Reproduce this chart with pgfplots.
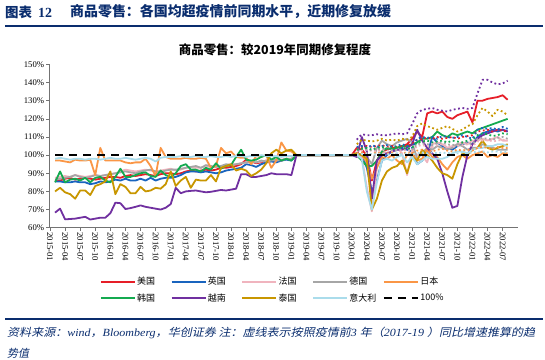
\documentclass[border=0pt]{standalone}
\usepackage{pgfplots}
\pgfplotsset{compat=1.18}
\usepackage{pgfplotstable}
\usepackage{fontspec}
\setmainfont{Liberation Serif}
\newfontfamily\cjk{Noto Sans CJK SC}
\newfontfamily\cjkit{Noto Sans CJK SC}[FakeSlant=0.2]
\definecolor{cUS}{RGB}{230,30,40}
\definecolor{cUK}{RGB}{25,100,190}
\definecolor{cFR}{RGB}{240,180,190}
\definecolor{cDE}{RGB}{166,166,166}
\definecolor{cJP}{RGB}{250,150,70}
\definecolor{cKR}{RGB}{20,170,80}
\definecolor{cVN}{RGB}{112,48,160}
\definecolor{cTH}{RGB}{200,150,0}
\definecolor{cIT}{RGB}{170,220,235}
\definecolor{navy}{RGB}{10,45,110}

\pgfplotstableread{
m us uk fr de jp kr vn th it
0 86.5 85.5 87.5 86.5 97 85 68.3 80 98
1 86 85.5 88 87 97 91 70.5 82 98.5
2 87 85 88.5 87.5 96.5 85 64.6 79.5 98
3 87.5 85 88 88 96 86.5 64.8 78.5 97.5
4 86.5 85.5 89 89 97.5 87 65 76 98
5 87 85 88.5 88 97 86 65.5 80.5 98
6 87.5 85 88 87.5 97 87.5 66 80.5 97.5
7 87 84 88.5 88 97.5 85 64.5 78 98
8 86.5 84.5 89 89 89 87.5 65 83 98
9 87 85.5 88.5 88.5 104 88 65.5 84 97.5
10 87.5 85 89 89 97 86 65.5 85.5 98
11 88 85.5 89.5 89.5 97 85 68 91 98.5
12 88 86.5 90 90 97 88 73.8 78.5 98
13 87.5 86 91 90.5 97 92.5 73.5 84 98
14 88.5 87 92 91 96 88 70.3 82.5 98.5
15 89 86 91.5 90.5 95.5 88 70.8 79 98
16 88.5 86 91 90 96 89 71.5 79 97.5
17 89 87 91.5 91 96 90 72.3 82.5 98
18 89.5 86 92 91.5 98 90.5 71.5 80 98.5
19 89 87.5 91.5 92 94 88.5 71 80.5 98
20 88.5 86 91 91 88.5 88 70.5 82 96.5
21 89.5 87 91.5 90.5 104 91.5 70 81.5 98.5
22 90 87.5 92 91.5 99 89 71 84 99
23 90 87.5 92.5 92 98 88 73 91 99
24 89.5 88 91.5 92 98 90 82 83 99
25 90 89 92 92.5 98 94 79 86 99.5
26 91 90.5 93 93 98.5 95 80 88 99
27 91.5 91 93.5 93.5 98 92 80.3 82 99
28 91 91 93 94 98 92 80.5 86.5 99.5
29 91.5 90.5 93 93 98.5 91 80 86 99
30 92 91 94 94.5 98 93 79.5 86 99
31 91.5 90.5 93.5 94 93 92 79.8 89 99.5
32 92 90 93.5 93.5 94 95.5 80.3 85.5 99
33 93 90.5 94 94 104 92.5 80.8 93 99
34 93 91.5 94.5 95 101 94 80.5 94 99.5
35 93.5 92 95 94.5 102 94.5 81 95 99
36 94 92.5 95 95 99 99 81.5 91.5 99.5
37 95 93 95.5 95.5 98.5 103 89.5 92.5 99.5
38 97.5 95 96 96 98.5 97.5 89.5 91.5 99
39 96.5 94.5 96.5 96.5 95 97 88 88.5 99.5
40 95.5 93.5 96 96 99.5 97.5 88 90 99.5
41 96 95 96.5 97 99 99 88.5 92 100
42 97 96 97 96.5 100 100 89 95.5 99.5
43 97.5 96.5 97.5 97 93 97.5 90 101 99.5
44 96.5 96 97 97.5 97 99 89.5 103 99.5
45 97 97 97.5 97 107 97 89.5 101 99
46 98 97.5 98 98 102.5 98 89.5 102.5 99.5
47 97.5 97 98 98 102 97 89 103 99.5
48 100 100 100 100 100 100 100 100 100
49 100 100 100 100 100 100 100 100 100
50 100 100 100 100 100 100 100 100 100
51 100 100 100 100 100 100 100 100 100
52 100 100 100 100 100 100 100 100 100
53 100 100 100 100 100 100 100 100 100
54 100 100 100 100 100 100 100 100 100
55 100 100 100 100 100 100 100 100 100
56 100 100 100 100 100 100 100 100 100
57 100 100 100 100 100 100 100 100 100
58 100 100 100 100 100 100 100 100 100
59 100 100 100 100 100 100 100 100 100
60 104 101 101 101 101 100 99 101 100
61 103 100 99 100 100 97 110 100 98
62 100 93 82 99 96 94 102 98 80
63 86 80 69 95 87 94 76 70 70
64 97 86 93 104 93 97 97 76 85
65 102 97 102 108 99 102 100 86 97
66 103 100 101 106 98 104 101 91 98
67 104 102 102 105 100 103 102 93 97
68 104 103 104 107 97 104 103 94 99
69 105 104 101 108 95 105 103 97 100
70 106 103 89 109 100 105 104 90 96
71 109 102 103 107 101 106 106 99 99
72 113 95 100 98 97 107 114 97 95
73 110 97 100 101 98 109 108 103 97
74 123 100 96 104 103 109 104 100 99
75 124 110 106 103 99 110 101 97 98
76 123 107 107 105 99 113 98 93 98
77 124 105 106 104 95 111 90 90 98
78 121 104 104 103 92 110 80 89 99
79 120 103 105 104 96 112 71 87 101
80 122 105 106 106 99 111 72 95 102
81 123 106 107 105 100 112 88 101 102
82 124 107 106 103 98 113 100 100 101
83 118 106 108 104 100 112 106 103 103
84 130 110 108 104 101 114 109 104 104
85 130 112 109 106 102 115 111 108 104
86 131 113 108 105 99 116 112 104 105
87 131.5 114 109 104 100 117 113 103 105
88 132 113 110 103 99 118 114 104 106
89 133 114 108 103 101 119 114 105 106
90 130.5 113 108 103 101 120 113 106 105
}\actual

\pgfplotstableread{
m tus tuk tfr tde tjp tkr tvn tth tit
60 104 104.5 102 103 101 103 108.5 106 100.5
61 104.5 105 102.5 103.5 101.5 103.5 111.5 108.5 100.5
62 105 104 103 103 101 104 111 108 101
63 104.5 105.5 102.5 102.5 100.5 103 111 107.5 100.5
64 105 104.5 102 103.5 101.5 104 111.5 108 100.5
65 105.5 105 103 103 101 104.5 111 109 101
66 104.5 105.5 102.5 104 101 103.5 111 108 100.5
67 105 104.5 102 103 101.5 104 111.5 108.5 100.5
68 104.5 105 103 102.5 100.5 104.5 112 108 101
69 105 106 102.5 103.5 101 104 111.5 109 100.5
70 105.5 105 103 104 101.5 103.5 112 108.5 101
71 106 104 102 103 101 104 117 110 100.5
72 108.5 109 105 106 102.5 107 123 116 101
73 109 110 105.5 106.5 103 107.5 125 117.5 101.5
74 109.5 109.5 105 106 102.5 108 125.5 116 101
75 109 110 104.5 105.5 102 107 126 115 101.5
76 110 109 105.5 106.5 103 107.5 125 114 101
77 109 110.5 106 107 103.5 108 124.5 115 101.5
78 109.5 110 105 106 102.5 107 124 116 101
79 110 109.5 104.5 105.5 102 108 125 114.5 101.5
80 109 110 105 106 103 107.5 125.5 113 101
81 110 111 105.5 106.5 102.5 107 126 114 101.5
82 110.5 110 106 107 103 108 125.5 116 101
83 111 109 105 106 102.5 108.5 126 117 101.5
84 113 114 107.5 109 104 111 134 122 102
85 113.5 115 108 109.5 104.5 112 141.5 126 102
86 114 114.5 108.5 109 104 111.5 141.5 124 101.5
87 113 115 107.5 108.5 103.5 110.5 140 121.5 102
88 114 114 108 109.5 104.5 111 139 125 102
89 113.5 115.5 108.5 110 104 112 139.5 124 101.5
90 113 114.5 108 109 104 111.5 141 122 102
}\trend

\begin{document}
\begin{tikzpicture}[x=1bp,y=1bp]
\path[use as bounding box] (0,0) rectangle (545,359);
% header
\node[anchor=west, text=navy, inner sep=0pt] at (5,347) {{\cjk\bfseries\fontsize{13.5}{15}\selectfont 图表}\hspace{6bp}{\fontsize{14}{15}\selectfont\bfseries 12}};
\node[anchor=west, text=navy, inner sep=0pt] at (70,347) {\cjk\bfseries\fontsize{14}{15}\selectfont 商品零售：各国均超疫情前同期水平，近期修复放缓};
\draw[navy, line width=2] (5,333) -- (543,333);
\node[inner sep=0pt] at (275,309) {\cjk\bfseries\fontsize{12.5}{14}\selectfont 商品零售：较2019年同期修复程度};
% footer
\draw[navy, line width=2] (5,39.8) -- (543,39.8);
\node[anchor=west, inner sep=0pt, text=navy] at (7,26) {\resizebox{528bp}{\height}{\fontsize{11}{12}\selectfont{\cjkit 资料来源：}{\itshape wind}{\cjkit ，}{\itshape Bloomberg}{\cjkit ，华创证券 注：虚线表示按照疫情前}{\itshape 3 }{\cjkit 年（}{\itshape 2017-19 }{\cjkit ）同比增速推算的趋}}};
\node[anchor=west, inner sep=0pt, text=navy] at (7,6) {\fontsize{11}{12}\selectfont\cjkit 势值};

\begin{axis}[
  at={(49.3bp,131.3bp)}, anchor=south west, scale only axis,
  width=468.4bp, height=163.3bp,
  xmin=-1.14, xmax=92, ymin=60, ymax=150,
  axis lines*=left,
  axis line style={black!55, line width=0.8pt},
  tick style={black!55, line width=0.6pt},
  tick align=outside, major tick length=3bp,
  xtick={-1,2,...,89},
  xticklabels={2015-01,2015-04,2015-07,2015-10,2016-01,2016-04,2016-07,2016-10,2017-01,2017-04,2017-07,2017-10,2018-01,2018-04,2018-07,2018-10,2019-01,2019-04,2019-07,2019-10,2020-01,2020-04,2020-07,2020-10,2021-01,2021-04,2021-07,2021-10,2022-01,2022-04,2022-07},
  ytick={60,70,...,150},
  /pgf/number format/assume math mode=true,
  yticklabel={\pgfmathprintnumber{\tick}\%},
  xticklabel style={rotate=-90, anchor=west, font=\fontsize{8.7}{9}\selectfont, inner sep=1.5bp},
  yticklabel style={font=\fontsize{8.7}{9}\selectfont, inner sep=2bp},
  legend columns=5,
  legend cell align=left,
  legend image code/.code={\draw[#1] (0bp,0bp) -- (34bp,0bp);},
  legend style={at={(axis description cs:0.4765,-0.3815)}, anchor=center, draw=none, fill=none,
     font=\cjk\fontsize{9}{10}\selectfont, inner sep=0pt,
     nodes={inner sep=1.5bp},
     /tikz/every even column/.append style={column sep=14bp},
     row sep=4bp},
  every axis plot/.append style={line join=round},
]
\addplot[cUS, line width=1.8bp] table[x=m,y=us] {\actual}; \addlegendentry{美国}
\addplot[cUK, line width=1.8bp] table[x=m,y=uk] {\actual}; \addlegendentry{英国}
\addplot[cFR, line width=1.8bp] table[x=m,y=fr] {\actual}; \addlegendentry{法国}
\addplot[cDE, line width=1.8bp] table[x=m,y=de] {\actual}; \addlegendentry{德国}
\addplot[cJP, line width=1.8bp] table[x=m,y=jp] {\actual}; \addlegendentry{日本}
\addplot[cKR, line width=1.8bp] table[x=m,y=kr] {\actual}; \addlegendentry{韩国}
\addplot[cVN, line width=1.8bp] table[x=m,y=vn] {\actual}; \addlegendentry{越南}
\addplot[cTH, line width=1.8bp] table[x=m,y=th] {\actual}; \addlegendentry{泰国}
\addplot[cIT, line width=1.8bp] table[x=m,y=it] {\actual}; \addlegendentry{\makebox[18bp][l]{意大利}}
\addplot[cUS, line width=1.8bp, dash pattern=on 1.8bp off 2.6bp, forget plot] table[x=m,y=tus] {\trend};
\addplot[cUK, line width=1.8bp, dash pattern=on 1.8bp off 2.6bp, forget plot] table[x=m,y=tuk] {\trend};
\addplot[cFR, line width=1.8bp, dash pattern=on 1.8bp off 2.6bp, forget plot] table[x=m,y=tfr] {\trend};
\addplot[cDE, line width=1.8bp, dash pattern=on 1.8bp off 2.6bp, forget plot] table[x=m,y=tde] {\trend};
\addplot[cJP, line width=1.8bp, dash pattern=on 1.8bp off 2.6bp, forget plot] table[x=m,y=tjp] {\trend};
\addplot[cKR, line width=1.8bp, dash pattern=on 1.8bp off 2.6bp, forget plot] table[x=m,y=tkr] {\trend};
\addplot[cVN, line width=1.8bp, dash pattern=on 1.8bp off 2.6bp, forget plot] table[x=m,y=tvn] {\trend};
\addplot[cTH, line width=1.8bp, dash pattern=on 1.8bp off 2.6bp, forget plot] table[x=m,y=tth] {\trend};
\addplot[cIT, line width=1.8bp, dash pattern=on 1.8bp off 2.6bp, forget plot] table[x=m,y=tit] {\trend};
\addplot[black, line width=2bp, dash pattern=on 8bp off 6bp] coordinates {(0,100) (90,100)}; \addlegendentry{100\%}
\end{axis}
\end{tikzpicture}
\end{document}
